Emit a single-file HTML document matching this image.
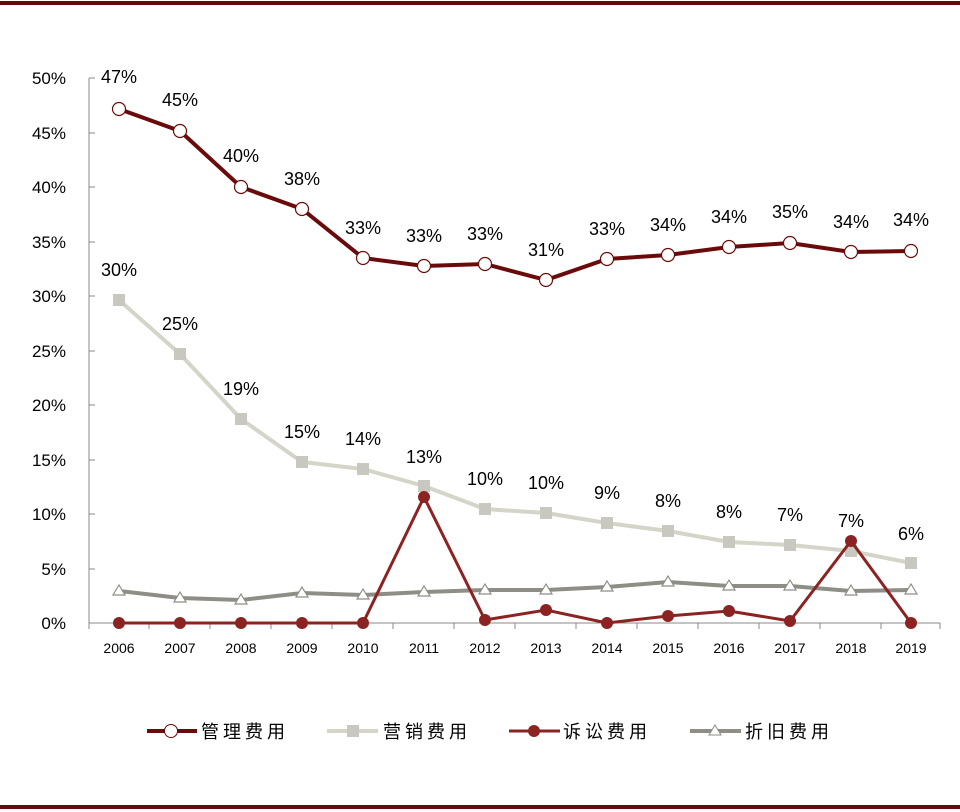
<!DOCTYPE html>
<html><head><meta charset="utf-8"><style>body{margin:0;background:#fff}svg{display:block}text{font-family:"Liberation Sans","Noto Sans CJK SC",sans-serif}</style></head><body>
<svg width="960" height="812" viewBox="0 0 960 812" xmlns="http://www.w3.org/2000/svg">
<rect x="0" y="1" width="960" height="4" fill="#6b0a0a"/>
<rect x="0" y="805" width="960" height="4" fill="#6b0a0a"/>
<g stroke="#888" stroke-width="1">
<line x1="89" y1="78" x2="89" y2="623"/><line x1="89" y1="623" x2="940" y2="623"/>
<g id="yt"></g>
</g>
<g font-size="17" fill="#000" text-anchor="end">
<text x="66" y="84">50%</text><text x="66" y="139">45%</text><text x="66" y="193">40%</text><text x="66" y="248">35%</text><text x="66" y="302">30%</text><text x="66" y="357">25%</text><text x="66" y="411">20%</text><text x="66" y="466">15%</text><text x="66" y="520">10%</text><text x="66" y="575">5%</text><text x="66" y="629">0%</text>
</g>
<g stroke="#888"><path d="M89 78h6M89 133h6M89 187h6M89 242h6M89 296h6M89 351h6M89 405h6M89 460h6M89 514h6M89 569h6M89 623h6"/>
<path d="M89 623v6M149 623v6M210 623v6M271 623v6M332 623v6M393 623v6M454 623v6M515 623v6M576 623v6M637 623v6M698 623v6M759 623v6M820 623v6M881 623v6M940 623v6"/></g>
<g font-size="14" text-anchor="middle"><text x="119" y="653">2006</text><text x="180" y="653">2007</text><text x="241" y="653">2008</text><text x="302" y="653">2009</text><text x="363" y="653">2010</text><text x="424" y="653">2011</text><text x="485" y="653">2012</text><text x="546" y="653">2013</text><text x="607" y="653">2014</text><text x="668" y="653">2015</text><text x="729" y="653">2016</text><text x="790" y="653">2017</text><text x="851" y="653">2018</text><text x="911" y="653">2019</text></g>
<!-- 折旧 -->
<polyline fill="none" stroke="#8e8e86" stroke-width="4" points="119,591 180,598 241,600 302,593 363,595 424,592 485,590 546,590 607,587 668,582 729,586 790,586 851,591 911,590"/>
<g fill="#fff" stroke="#8e8e86" stroke-width="1.2">
<path d="M119 585l6 10h-12z"/><path d="M180 592l6 10h-12z"/><path d="M241 594l6 10h-12z"/><path d="M302 587l6 10h-12z"/><path d="M363 589l6 10h-12z"/><path d="M424 586l6 10h-12z"/><path d="M485 584l6 10h-12z"/><path d="M546 584l6 10h-12z"/><path d="M607 581l6 10h-12z"/><path d="M668 576l6 10h-12z"/><path d="M729 580l6 10h-12z"/><path d="M790 580l6 10h-12z"/><path d="M851 585l6 10h-12z"/><path d="M911 584l6 10h-12z"/></g>
<!-- 营销 -->
<polyline fill="none" stroke="#d4d4c8" stroke-width="4" points="119,300 180,354 241,419 302,462 363,469 424,486 485,509 546,513 607,523 668,531 729,542 790,545 851,551 911,563"/>
<g fill="#c8c8c0"><rect x="113" y="294" width="12" height="12"/><rect x="174" y="348" width="12" height="12"/><rect x="235" y="413" width="12" height="12"/><rect x="296" y="456" width="12" height="12"/><rect x="357" y="463" width="12" height="12"/><rect x="418" y="480" width="12" height="12"/><rect x="479" y="503" width="12" height="12"/><rect x="540" y="507" width="12" height="12"/><rect x="601" y="517" width="12" height="12"/><rect x="662" y="525" width="12" height="12"/><rect x="723" y="536" width="12" height="12"/><rect x="784" y="539" width="12" height="12"/><rect x="845" y="545" width="12" height="12"/><rect x="905" y="557" width="12" height="12"/></g>
<!-- 诉讼 -->
<polyline fill="none" stroke="#8b2323" stroke-width="3" points="119,623 180,623 241,623 302,623 363,623 424,497 485,620 546,610 607,623 668,616 729,611 790,621 851,541 911,623"/>
<g fill="#8b2323"><circle cx="119" cy="623" r="6"/><circle cx="180" cy="623" r="6"/><circle cx="241" cy="623" r="6"/><circle cx="302" cy="623" r="6"/><circle cx="363" cy="623" r="6"/><circle cx="424" cy="497" r="6"/><circle cx="485" cy="620" r="6"/><circle cx="546" cy="610" r="6"/><circle cx="607" cy="623" r="6"/><circle cx="668" cy="616" r="6"/><circle cx="729" cy="611" r="6"/><circle cx="790" cy="621" r="6"/><circle cx="851" cy="541" r="6"/><circle cx="911" cy="623" r="6"/></g>
<!-- 管理 -->
<polyline fill="none" stroke="#6b0a0a" stroke-width="4" points="119,109 180,131 241,187 302,209 363,258 424,266 485,264 546,280 607,259 668,255 729,247 790,243 851,252 911,251"/>
<g fill="#fff" stroke="#6b0a0a" stroke-width="1.2"><circle cx="119" cy="109" r="6.5"/><circle cx="180" cy="131" r="6.5"/><circle cx="241" cy="187" r="6.5"/><circle cx="302" cy="209" r="6.5"/><circle cx="363" cy="258" r="6.5"/><circle cx="424" cy="266" r="6.5"/><circle cx="485" cy="264" r="6.5"/><circle cx="546" cy="280" r="6.5"/><circle cx="607" cy="259" r="6.5"/><circle cx="668" cy="255" r="6.5"/><circle cx="729" cy="247" r="6.5"/><circle cx="790" cy="243" r="6.5"/><circle cx="851" cy="252" r="6.5"/><circle cx="911" cy="251" r="6.5"/></g>
<g font-size="18" text-anchor="middle">
<text x="119" y="83">47%</text><text x="180" y="106">45%</text><text x="241" y="162">40%</text><text x="302" y="185">38%</text><text x="363" y="234">33%</text><text x="424" y="242">33%</text><text x="485" y="240">33%</text><text x="546" y="256">31%</text><text x="607" y="235">33%</text><text x="668" y="231">34%</text><text x="729" y="223">34%</text><text x="790" y="218">35%</text><text x="851" y="228">34%</text><text x="911" y="226">34%</text>
<text x="119" y="276">30%</text><text x="180" y="330">25%</text><text x="241" y="395">19%</text><text x="302" y="438">15%</text><text x="363" y="445">14%</text><text x="424" y="463">13%</text><text x="485" y="485">10%</text><text x="546" y="489">10%</text><text x="607" y="499">9%</text><text x="668" y="507">8%</text><text x="729" y="518">8%</text><text x="790" y="521">7%</text><text x="851" y="527">7%</text><text x="911" y="540">6%</text>
</g>
<!-- legend -->
<line x1="147" y1="731" x2="197" y2="731" stroke="#6b0a0a" stroke-width="4"/><circle cx="171" cy="731" r="6.5" fill="#fff" stroke="#6b0a0a"/>
<line x1="327" y1="731" x2="378" y2="731" stroke="#d4d4c8" stroke-width="4"/><rect x="347" y="725" width="12" height="12" fill="#c8c8c0"/>
<line x1="509" y1="731" x2="560" y2="731" stroke="#8b2323" stroke-width="3"/><circle cx="534" cy="731" r="6" fill="#8b2323"/>
<line x1="690" y1="731" x2="741" y2="731" stroke="#8e8e86" stroke-width="4"/><path d="M715 725l6 10h-12z" fill="#fff" stroke="#8e8e86"/>
<g font-size="18" letter-spacing="4" font-family="'Noto Serif CJK SC',serif"><text x="201" y="738">管理费用</text><text x="383" y="738">营销费用</text><text x="563" y="738">诉讼费用</text><text x="745" y="738">折旧费用</text></g>
</svg>
</body></html>
